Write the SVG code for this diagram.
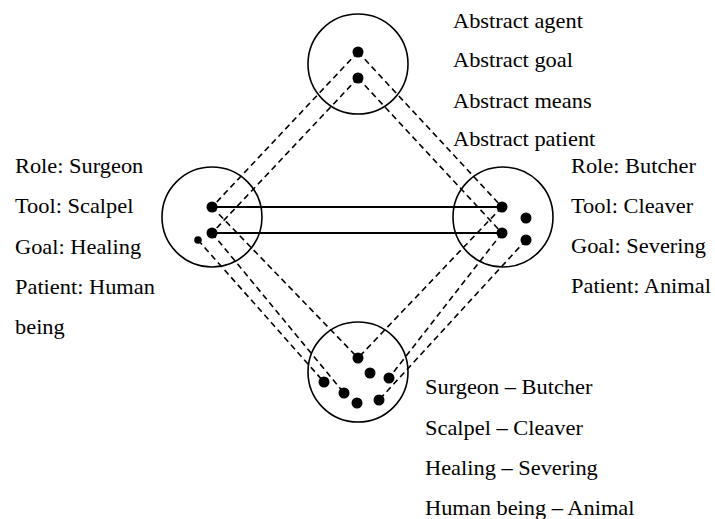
<svg xmlns="http://www.w3.org/2000/svg" width="715" height="519" viewBox="0 0 715 519">
<style>
.c{fill:none;stroke:#000;stroke-width:1.6}
.d{fill:#000}
.dash{stroke:#000;stroke-width:1.6;stroke-dasharray:6 4;fill:none}
.solid{stroke:#000;stroke-width:2.2}
.t{font-family:'Liberation Serif','Times New Roman','DejaVu Serif',serif;font-size:20px;fill:#000}
</style>
<rect width="715" height="519" fill="#fff"/>
<g id="connectors">
<line class="dash" x1="358" y1="52" x2="212" y2="207"/>
<line class="dash" x1="358" y1="52" x2="502" y2="207"/>
<line class="dash" x1="358" y1="78" x2="212" y2="233"/>
<line class="dash" x1="358" y1="78" x2="502" y2="233"/>
<line class="dash" x1="212" y1="207" x2="358" y2="358"/>
<line class="dash" x1="502" y1="207" x2="358" y2="358"/>
<line class="dash" x1="212" y1="233" x2="344" y2="393"/>
<line class="dash" x1="198" y1="240" x2="324" y2="382"/>
<line class="dash" x1="502" y1="233" x2="389" y2="378"/>
<line class="dash" x1="526" y1="240" x2="379" y2="400"/>
<line class="solid" x1="212" y1="207" x2="502" y2="207"/>
<line class="solid" x1="212" y1="233" x2="502" y2="233"/>
</g>
<g id="abstract">
<circle class="c" cx="358" cy="64" r="50"/>
<circle class="d" cx="358" cy="52" r="5.5"/>
<circle class="d" cx="358" cy="78" r="5.5"/>
<g class="t" font-family="Liberation Serif, serif">
<text transform="translate(453,28) scale(1.12,1)">Abstract agent</text>
<text transform="translate(453,67) scale(1.12,1)">Abstract goal</text>
<text transform="translate(453,108) scale(1.12,1)">Abstract means</text>
<text transform="translate(453,146) scale(1.12,1)">Abstract patient</text>
</g>
</g>
<g id="surgeon">
<circle class="c" cx="212" cy="217" r="50"/>
<circle class="d" cx="212" cy="207" r="5.5"/>
<circle class="d" cx="212" cy="233" r="5.5"/>
<circle class="d" cx="198" cy="240" r="3.8"/>
<g class="t" font-family="Liberation Serif, serif">
<text transform="translate(15,173) scale(1.12,1)">Role: Surgeon</text>
<text transform="translate(15,213) scale(1.12,1)">Tool: Scalpel</text>
<text transform="translate(15,254) scale(1.12,1)">Goal: Healing</text>
<text transform="translate(15,294) scale(1.12,1)">Patient: Human</text>
<text transform="translate(15,334) scale(1.12,1)">being</text>
</g>
</g>
<g id="butcher">
<circle class="c" cx="503" cy="217" r="50"/>
<circle class="d" cx="502" cy="207" r="5.5"/>
<circle class="d" cx="502" cy="233" r="5.5"/>
<circle class="d" cx="526" cy="218" r="5.5"/>
<circle class="d" cx="526" cy="240" r="5.5"/>
<g class="t" font-family="Liberation Serif, serif">
<text transform="translate(571,173) scale(1.12,1)">Role: Butcher</text>
<text transform="translate(571,213) scale(1.12,1)">Tool: Cleaver</text>
<text transform="translate(571,253) scale(1.12,1)">Goal: Severing</text>
<text transform="translate(571,293) scale(1.12,1)">Patient: Animal</text>
</g>
</g>
<g id="blend">
<circle class="c" cx="358" cy="372" r="50"/>
<circle class="d" cx="358" cy="358" r="5.5"/>
<circle class="d" cx="370" cy="373" r="5.5"/>
<circle class="d" cx="389" cy="378" r="5.5"/>
<circle class="d" cx="324" cy="382" r="5.5"/>
<circle class="d" cx="344" cy="393" r="5.5"/>
<circle class="d" cx="357" cy="403" r="5.5"/>
<circle class="d" cx="379" cy="400" r="5.5"/>
<g class="t" font-family="Liberation Serif, serif">
<text transform="translate(425,394) scale(1.12,1)">Surgeon – Butcher</text>
<text transform="translate(425,435) scale(1.12,1)">Scalpel – Cleaver</text>
<text transform="translate(425,475) scale(1.12,1)">Healing – Severing</text>
<text transform="translate(425,515) scale(1.12,1)">Human being – Animal</text>
</g>
</g>
</svg>
